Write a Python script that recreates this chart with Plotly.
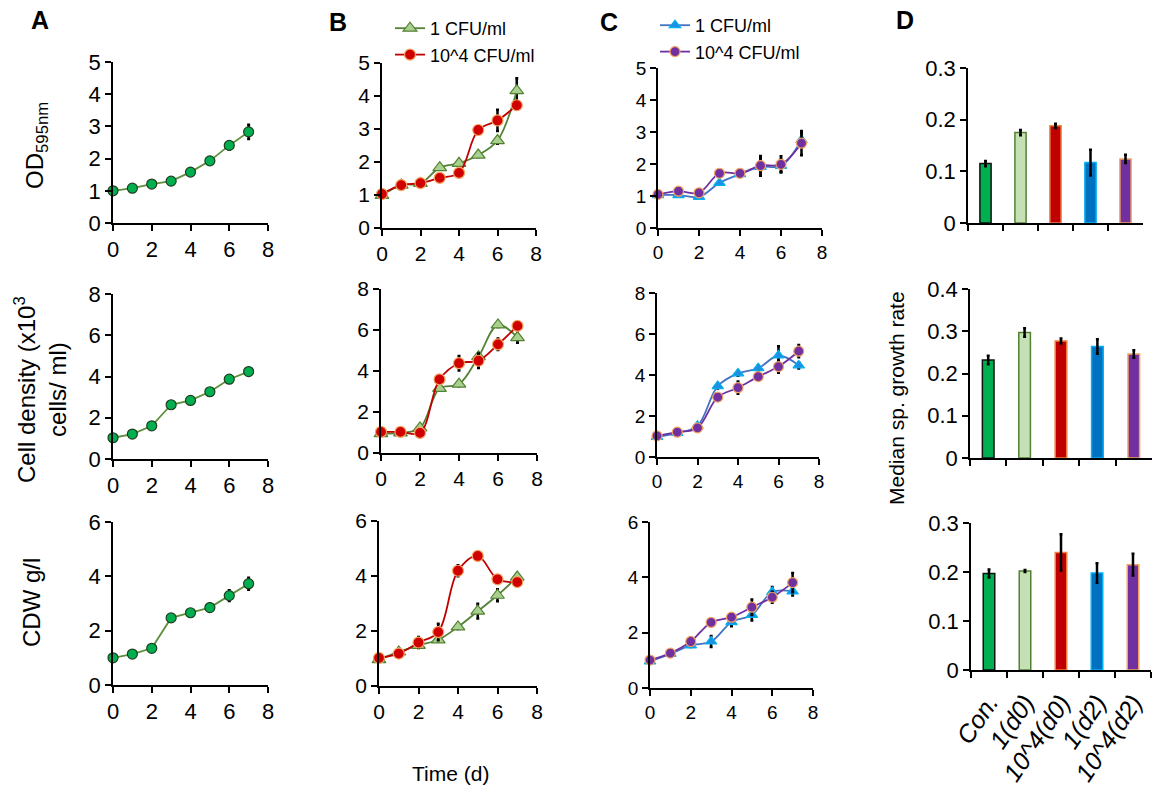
import plotly.graph_objects as go

W, H = 1157, 809
FONT = "Liberation Sans, Arial, sans-serif"

# ---------------- data ----------------
days = [0, 1, 2, 3, 4, 5, 6, 7]
x_ticks = [0, 2, 4, 6, 8]

# Panel A (control)
a_od = [1.00, 1.08, 1.21, 1.30, 1.58, 1.93, 2.41, 2.83]
a_od_err = [0.03, 0.03, 0.04, 0.04, 0.05, 0.06, 0.13, 0.22]
a_cell = [1.03, 1.21, 1.61, 2.63, 2.84, 3.26, 3.87, 4.24]
a_cell_err = [0.05, 0.06, 0.08, 0.10, 0.10, 0.10, 0.12, 0.12]
a_cdw = [1.00, 1.14, 1.35, 2.47, 2.66, 2.85, 3.29, 3.73]
a_cdw_err = [0.04, 0.05, 0.06, 0.08, 0.08, 0.15, 0.20, 0.22]

# Panel B (inoculated day 0)
b_od_1 = [0.99, 1.30, 1.35, 1.83, 1.96, 2.21, 2.65, 4.16]
b_od_1_err = [0.03, 0.04, 0.04, 0.05, 0.05, 0.06, 0.10, 0.38]
b_od_4 = [1.03, 1.30, 1.36, 1.52, 1.67, 2.97, 3.26, 3.72]
b_od_4_err = [0.03, 0.04, 0.04, 0.05, 0.05, 0.06, 0.32, 0.12]
b_cell_1 = [0.95, 0.98, 1.22, 3.15, 3.36, 4.70, 6.25, 5.63]
b_cell_1_err = [0.05, 0.05, 0.06, 0.10, 0.10, 0.12, 0.10, 0.25]
b_cell_4 = [1.03, 1.03, 0.98, 3.59, 4.38, 4.50, 5.30, 6.20]
b_cell_4_err = [0.05, 0.05, 0.05, 0.10, 0.35, 0.35, 0.28, 0.15]
b_cdw_1 = [0.96, 1.24, 1.48, 1.68, 2.15, 2.72, 3.30, 3.96]
b_cdw_1_err = [0.04, 0.05, 0.06, 0.06, 0.08, 0.27, 0.22, 0.10]
b_cdw_4 = [1.02, 1.18, 1.58, 1.96, 4.19, 4.73, 3.88, 3.78]
b_cdw_4_err = [0.04, 0.05, 0.20, 0.30, 0.20, 0.15, 0.10, 0.08]

# Panel C (inoculated day 2)
c_od_1 = [1.03, 1.03, 0.97, 1.41, 1.68, 1.91, 1.94, 2.75]
c_od_1_err = [0.03, 0.04, 0.04, 0.06, 0.06, 0.28, 0.20, 0.22]
c_od_4 = [1.05, 1.15, 1.10, 1.71, 1.71, 1.95, 1.99, 2.65]
c_od_4_err = [0.03, 0.04, 0.04, 0.06, 0.06, 0.30, 0.25, 0.38]
c_cell_1 = [0.98, 1.18, 1.52, 3.46, 4.08, 4.33, 4.95, 4.47]
c_cell_1_err = [0.05, 0.06, 0.08, 0.12, 0.12, 0.15, 0.45, 0.15]
c_cell_4 = [1.03, 1.21, 1.42, 2.92, 3.38, 3.92, 4.41, 5.16]
c_cell_4_err = [0.05, 0.06, 0.08, 0.10, 0.30, 0.15, 0.30, 0.30]
c_cdw_1 = [0.96, 1.23, 1.54, 1.68, 2.38, 2.64, 3.47, 3.49]
c_cdw_1_err = [0.04, 0.05, 0.06, 0.20, 0.15, 0.20, 0.18, 0.15]
c_cdw_4 = [1.01, 1.26, 1.68, 2.37, 2.56, 2.92, 3.28, 3.81]
c_cdw_4_err = [0.04, 0.05, 0.15, 0.08, 0.10, 0.28, 0.20, 0.35]

# Panel D (median specific growth rate)
d_groups = ["Con.", "1(d0)", "10^4(d0)", "1(d2)", "10^4(d2)"]
d_od = [0.115, 0.175, 0.188, 0.117, 0.124]
d_od_err = [0.005, 0.005, 0.004, 0.025, 0.008]
d_cell = [0.232, 0.297, 0.277, 0.264, 0.246]
d_cell_err = [0.010, 0.010, 0.006, 0.017, 0.009]
d_cdw = [0.197, 0.202, 0.240, 0.198, 0.215]
d_cdw_err = [0.008, 0.002, 0.037, 0.020, 0.022]

legend_labels = ["1 CFU/ml", "10^4 CFU/ml"]

# ---------------- styles ----------------
GREEN_A = dict(fill="#00B050", edge="#1F3D1F", line="#5E8F3C")
TRI_G = dict(fill="#A9D08E", edge="#548235", line="#548235")
RED = dict(fill="#D00000", edge="#F4A460", line="#C00000")
BLUE = dict(fill="#1F8FE0", edge="#00B0F0", line="#4472C4")
PURPLE = dict(fill="#7030A0", edge="#F4A460", line="#7030A0")
bar_fill = ["#00B050", "#C5E0B4", "#C00000", "#0070C0", "#7030A0"]
bar_edge = ["#111111", "#548235", "#F08040", "#00B0F0", "#F4A460"]

fig = go.Figure()
layout = dict(width=W, height=H, autosize=False,
              margin=dict(l=0, r=0, t=0, b=0, pad=0, autoexpand=False),
              paper_bgcolor="white", plot_bgcolor="white",
              font=dict(family=FONT, color="black"),
              showlegend=True)


def px_dom_x(a, b):
    return [a / W, b / W]


def px_dom_y(top, bottom):
    return [1 - bottom / H, 1 - top / H]


def add_axes(n, xdom, ydom, yrange, ydtick, tsize, categorical=False,
             show_xlabels=True, xtsize=None):
    xa = dict(domain=px_dom_x(*xdom), anchor=f"y{n}", showline=True,
              linecolor="black", linewidth=1.5, ticks="outside", ticklen=6,
              tickwidth=1.5, tickcolor="black", showgrid=False, zeroline=False,
              automargin=False,
              tickfont=dict(size=tsize, family=FONT))
    if categorical:
        xa.update(type="category", range=[-0.5, 4.5], tickson="boundaries",
                  showticklabels=show_xlabels, tickangle=-56,
                  ticklabelstandoff=6,
                  tickfont=dict(size=xtsize or tsize, family=FONT, style="italic"))
    else:
        xa.update(range=[0, 8], tickvals=x_ticks, showticklabels=show_xlabels)
    ya = dict(domain=px_dom_y(*ydom), anchor=f"x{n}", showline=True,
              linecolor="black", linewidth=1.5, ticks="outside", ticklen=6,
              tickwidth=1.5, tickcolor="black", showgrid=False, zeroline=False,
              automargin=False,
              range=yrange, dtick=ydtick, tick0=0,
              tickfont=dict(size=tsize, family=FONT))
    layout["xaxis" if n == 1 else f"xaxis{n}"] = xa
    layout["yaxis" if n == 1 else f"yaxis{n}"] = ya


def add_line(n, y, err, st, symbol, shape, name=None, legend=None, size=10):
    fig.add_trace(go.Scatter(
        x=days, y=y, mode="lines+markers", name=name or "series",
        xaxis=f"x{n}", yaxis=f"y{n}", cliponaxis=False,
        line=dict(color=st["line"], width=1.8, shape=shape),
        marker=dict(symbol=symbol, size=size, color=st["fill"],
                    line=dict(color=st["edge"], width=1.2)),
        error_y=dict(type="data", array=err, color="black", thickness=2.5,
                     width=1.5),
        showlegend=legend is not None, legend=legend or "legend"))


# ---- Panel A ----
add_axes(1, (113, 268), (62, 223), [0, 5], 1, 22)
add_axes(2, (113, 268), (294, 459), [0, 8], 2, 22)
add_axes(3, (113, 268), (522, 685), [0, 6], 2, 22)
add_line(1, a_od, a_od_err, GREEN_A, "circle", "linear")
add_line(2, a_cell, a_cell_err, GREEN_A, "circle", "linear")
add_line(3, a_cdw, a_cdw_err, GREEN_A, "circle", "linear")

# ---- Panel B ----
add_axes(4, (382, 536), (63, 228), [0, 5], 1, 21)
add_axes(5, (381, 537), (289, 453), [0, 8], 2, 21)
add_axes(6, (379, 537), (521, 686), [0, 6], 2, 21)
add_line(4, b_od_1, b_od_1_err, TRI_G, "triangle-up", "spline", legend_labels[0], "legend", 12)
add_line(4, b_od_4, b_od_4_err, RED, "circle", "spline", legend_labels[1], "legend", 11)
add_line(5, b_cell_1, b_cell_1_err, TRI_G, "triangle-up", "spline", size=12)
add_line(5, b_cell_4, b_cell_4_err, RED, "circle", "spline", size=11)
add_line(6, b_cdw_1, b_cdw_1_err, TRI_G, "triangle-up", "spline", size=12)
add_line(6, b_cdw_4, b_cdw_4_err, RED, "circle", "spline", size=11)

# ---- Panel C ----
add_axes(7, (658, 822), (68, 228), [0, 5], 1, 19)
add_axes(8, (657, 819), (293, 457), [0, 8], 2, 19)
add_axes(9, (650, 813), (522, 688), [0, 6], 2, 19)
add_line(7, c_od_1, c_od_1_err, BLUE, "triangle-up", "spline", legend_labels[0], "legend2", 10)
add_line(7, c_od_4, c_od_4_err, PURPLE, "circle", "spline", legend_labels[1], "legend2", 10)
add_line(8, c_cell_1, c_cell_1_err, BLUE, "triangle-up", "spline", size=10)
add_line(8, c_cell_4, c_cell_4_err, PURPLE, "circle", "spline", size=10)
add_line(9, c_cdw_1, c_cdw_1_err, BLUE, "triangle-up", "spline", size=10)
add_line(9, c_cdw_4, c_cdw_4_err, PURPLE, "circle", "spline", size=10)

# ---- Panel D ----
add_axes(10, (968, 1143), (68, 223), [0, 0.3], 0.1, 22, True, False)
add_axes(11, (970, 1152), (289, 458), [0, 0.4], 0.1, 22, True, False)
add_axes(12, (971, 1151), (523, 670), [0, 0.3], 0.1, 22, True, True, 25)
for n, vals, errs in [(10, d_od, d_od_err), (11, d_cell, d_cell_err),
                      (12, d_cdw, d_cdw_err)]:
    fig.add_trace(go.Bar(
        x=d_groups, y=vals, xaxis=f"x{n}", yaxis=f"y{n}", width=0.32,
        marker=dict(color=bar_fill, line=dict(color=bar_edge, width=1.5)),
        error_y=dict(type="data", array=errs, color="black", thickness=2.5,
                     width=1.5),
        showlegend=False))

# ---- legends ----
layout["legend"] = dict(x=390 / W, y=1 - 10 / H, xanchor="left", yanchor="top",
                        bgcolor="rgba(0,0,0,0)", font=dict(size=18, family=FONT),
                        tracegroupgap=0, itemwidth=30)
layout["legend2"] = dict(x=655 / W, y=1 - 7 / H, xanchor="left", yanchor="top",
                         bgcolor="rgba(0,0,0,0)", font=dict(size=18, family=FONT),
                         tracegroupgap=0, itemwidth=30)

# ---- annotations ----
ann = []


def text(x, y, s, size=20, angle=0, bold=False, xanchor="center"):
    ann.append(dict(x=x / W, y=1 - y / H, xref="paper", yref="paper",
                    text=f"<b>{s}</b>" if bold else s, showarrow=False,
                    textangle=angle, xanchor=xanchor, yanchor="middle",
                    font=dict(size=size, family=FONT, color="black")))


text(40, 20, "A", 25, bold=True)
text(338, 22, "B", 25, bold=True)
text(609, 22, "C", 25, bold=True)
text(905, 20, "D", 25, bold=True)
text(36, 146, "OD<sub>595nm</sub>", 24, angle=-90)
text(40, 390, "Cell density (x10<sup>3</sup><br>cells/ ml)", 24, angle=-90)
text(31, 603, "CDW g/l", 24, angle=-90)
text(896, 398, "Median sp. growth rate", 21, angle=-90)
text(450, 773, "Time (d)", 21)
layout["annotations"] = ann

fig.update_layout(**layout)
fig.write_html("out.html",
               config={"displayModeBar": False},
               post_script="document.body.style.margin='0px';"
                           "document.body.style.overflow='hidden';")
